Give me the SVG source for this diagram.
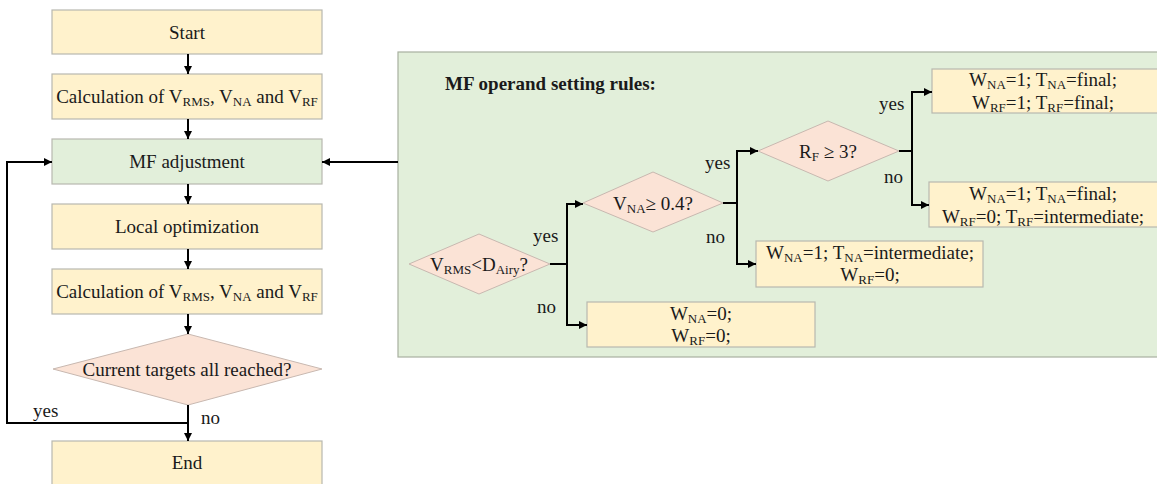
<svg xmlns="http://www.w3.org/2000/svg" width="1157" height="484" viewBox="0 0 1157 484">
<style>
text{font-family:"Liberation Serif","Times New Roman",serif;font-size:19px;fill:#1a1a1a;text-anchor:middle}
.sub{font-size:13px}
.box{fill:#fff2cc;stroke:#b8b8b0;stroke-width:1.2}
.gbox{fill:#e2efda;stroke:#b8b8b0;stroke-width:1.2}
.dia{fill:#fbe3d6;stroke:#c8b8b0;stroke-width:1}
.panel{fill:#e2efda;stroke:#a8b0a0;stroke-width:1.2}
.ln{fill:none;stroke:#000;stroke-width:2}
.lbl{text-anchor:start}
</style>
<defs>
<marker id="ah" viewBox="0 0 10 10" refX="10" refY="5" markerWidth="8" markerHeight="8" markerUnits="userSpaceOnUse" orient="auto">
<path d="M0,0 L10,5 L0,10 z" fill="#000"/>
</marker>
</defs>

<rect class="panel" x="398" y="52" width="770" height="305"/>

<g id="start"><rect class="box" x="52" y="10" width="270" height="44"/><text x="187" y="39">Start</text></g>
<g id="calc1"><rect class="box" x="52" y="74" width="270" height="45"/><text x="187" y="103">Calculation of V<tspan class="sub" dy="3">RMS</tspan><tspan dy="-3">, V</tspan><tspan class="sub" dy="3">NA</tspan><tspan dy="-3"> and V</tspan><tspan class="sub" dy="3">RF</tspan></text></g>
<g id="mfadj"><rect class="gbox" x="52" y="139" width="270" height="45"/><text x="187" y="168">MF adjustment</text></g>
<g id="localopt"><rect class="box" x="52" y="204" width="270" height="45"/><text x="187" y="233">Local optimization</text></g>
<g id="calc2"><rect class="box" x="52" y="269" width="270" height="45"/><text x="187" y="298">Calculation of V<tspan class="sub" dy="3">RMS</tspan><tspan dy="-3">, V</tspan><tspan class="sub" dy="3">NA</tspan><tspan dy="-3"> and V</tspan><tspan class="sub" dy="3">RF</tspan></text></g>
<g id="targets"><polygon class="dia" points="53,369 188,334 322,369 188,405"/><text x="187" y="376">Current targets all reached?</text></g>
<g id="end"><rect class="box" x="52" y="441" width="270" height="50"/><text x="187" y="469">End</text></g>

<g id="title"><text x="445" y="90" style="text-anchor:start;font-weight:bold">MF operand setting rules:</text></g>

<g id="d1"><polygon class="dia" points="409,264 479,234 550,264 479,294"/><text x="479" y="271">V<tspan class="sub" dy="3">RMS</tspan><tspan dy="-3">&lt;D</tspan><tspan class="sub" dy="3">Airy</tspan><tspan dy="-3">?</tspan></text></g>
<g id="d2"><polygon class="dia" points="583,203 653,172 723,203 653,232"/><text x="653" y="210">V<tspan class="sub" dy="3">NA</tspan><tspan dy="-3">≥ 0.4?</tspan></text></g>
<g id="d3"><polygon class="dia" points="758,151 828,121 899,151 828,181"/><text x="828" y="158">R<tspan class="sub" dy="3">F</tspan><tspan dy="-3"> ≥ 3?</tspan></text></g>

<g id="r1"><rect class="box" x="932" y="69" width="240" height="44"/>
<text x="1043" y="86">W<tspan class="sub" dy="3">NA</tspan><tspan dy="-3">=1; T</tspan><tspan class="sub" dy="3">NA</tspan><tspan dy="-3">=final;</tspan></text>
<text x="1043" y="109">W<tspan class="sub" dy="3">RF</tspan><tspan dy="-3">=1; T</tspan><tspan class="sub" dy="3">RF</tspan><tspan dy="-3">=final;</tspan></text></g>
<g id="r2"><rect class="box" x="929" y="182" width="240" height="45"/>
<text x="1043" y="200">W<tspan class="sub" dy="3">NA</tspan><tspan dy="-3">=1; T</tspan><tspan class="sub" dy="3">NA</tspan><tspan dy="-3">=final;</tspan></text>
<text x="1043" y="223">W<tspan class="sub" dy="3">RF</tspan><tspan dy="-3">=0; T</tspan><tspan class="sub" dy="3">RF</tspan><tspan dy="-3">=intermediate;</tspan></text></g>
<g id="r3"><rect class="box" x="756" y="241" width="227" height="46"/>
<text x="870" y="259">W<tspan class="sub" dy="3">NA</tspan><tspan dy="-3">=1; T</tspan><tspan class="sub" dy="3">NA</tspan><tspan dy="-3">=intermediate;</tspan></text>
<text x="870" y="281">W<tspan class="sub" dy="3">RF</tspan><tspan dy="-3">=0;</tspan></text></g>
<g id="r4"><rect class="box" x="587" y="302" width="228" height="45"/>
<text x="701" y="320">W<tspan class="sub" dy="3">NA</tspan><tspan dy="-3">=0;</tspan></text>
<text x="701" y="342">W<tspan class="sub" dy="3">RF</tspan><tspan dy="-3">=0;</tspan></text></g>

<g id="connectors">
<line class="ln" x1="188" y1="54" x2="188" y2="74" marker-end="url(#ah)"/>
<line class="ln" x1="188" y1="119" x2="188" y2="139" marker-end="url(#ah)"/>
<line class="ln" x1="188" y1="184" x2="188" y2="204" marker-end="url(#ah)"/>
<line class="ln" x1="188" y1="249" x2="188" y2="269" marker-end="url(#ah)"/>
<line class="ln" x1="188" y1="314" x2="188" y2="334" marker-end="url(#ah)"/>
<line class="ln" x1="188" y1="405" x2="188" y2="441" marker-end="url(#ah)"/>
<polyline class="ln" points="188,423 7,423 7,162 52,162" marker-end="url(#ah)"/>
<line class="ln" x1="398" y1="162" x2="322" y2="162" marker-end="url(#ah)"/>
<polyline class="ln" points="550,264 567,264"/>
<polyline class="ln" points="567,325 567,204 583,204" marker-end="url(#ah)"/>
<polyline class="ln" points="567,264 567,325 587,325" marker-end="url(#ah)"/>
<polyline class="ln" points="723,203 737,203"/>
<polyline class="ln" points="737,264 737,151 758,151" marker-end="url(#ah)"/>
<polyline class="ln" points="737,203 737,264 756,264" marker-end="url(#ah)"/>
<polyline class="ln" points="899,151 912,151"/>
<polyline class="ln" points="912,205 912,92 932,92" marker-end="url(#ah)"/>
<polyline class="ln" points="912,151 912,205 929,205" marker-end="url(#ah)"/>
<text class="lbl" x="33" y="417">yes</text>
<text class="lbl" x="201" y="424">no</text>
<text class="lbl" x="533" y="242">yes</text>
<text class="lbl" x="537" y="313">no</text>
<text class="lbl" x="705" y="169">yes</text>
<text class="lbl" x="706" y="243">no</text>
<text class="lbl" x="879" y="110">yes</text>
<text class="lbl" x="884" y="183">no</text>
</g>
</svg>
